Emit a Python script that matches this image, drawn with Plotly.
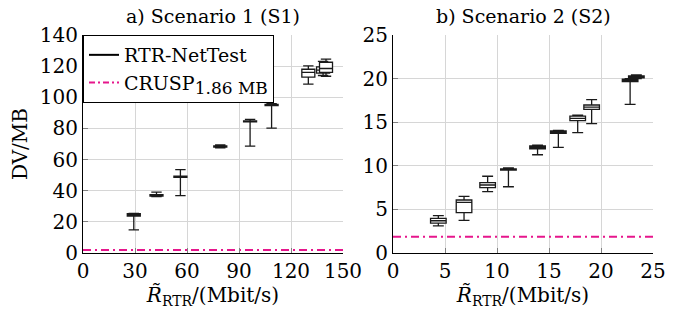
import plotly.graph_objects as go
from plotly.subplots import make_subplots

# ---- Data: Scenario 1 (S1) ----
s1_rate = [29.3, 42.4, 56.2, 79.2, 96.4, 108.8, 130.0, 138.5, 140.2]
s1_min = [14.8, 36.2, 36.8, 67.6, 68.6, 80.2, 108.4, 114.0, 113.5]
s1_q1 = [23.7, 36.6, 48.6, 68.0, 84.2, 94.6, 113.0, 115.5, 116.0]
s1_med = [24.5, 37.0, 49.0, 68.4, 84.5, 95.0, 116.0, 117.5, 118.5]
s1_q3 = [25.3, 37.4, 49.4, 68.8, 84.9, 95.5, 118.0, 119.5, 122.5]
s1_max = [25.5, 39.1, 53.5, 69.4, 85.8, 95.9, 120.2, 123.0, 124.5]

# ---- Data: Scenario 2 (S2) ----
s2_rate = [4.36, 6.83, 9.1, 11.1, 13.9, 15.9, 17.76, 19.1, 22.8, 23.4]
s2_min = [3.1, 3.75, 7.03, 7.6, 11.27, 12.12, 13.8, 14.83, 17.05, 20.0]
s2_q1 = [3.42, 4.62, 7.49, 9.5, 11.93, 13.72, 15.17, 16.48, 19.65, 20.1]
s2_med = [3.7, 5.8, 7.8, 9.6, 12.1, 13.85, 15.45, 16.74, 19.8, 20.2]
s2_q3 = [3.98, 6.08, 8.07, 9.65, 12.27, 14.0, 15.7, 16.97, 19.95, 20.3]
s2_max = [4.28, 6.5, 8.8, 9.75, 12.38, 14.05, 15.8, 17.6, 20.0, 20.42]

crusp_dv = 1.86  # MB

s1_xrange = [0, 150]
s1_yrange = [0, 140]
s2_xrange = [0, 25]
s2_yrange = [0, 25]
s1_xticks = [0, 30, 60, 90, 120, 150]
s1_yticks = [0, 20, 40, 60, 80, 100, 120, 140]
s2_xticks = [0, 5, 10, 15, 20, 25]
s2_yticks = [0, 5, 10, 15, 20, 25]

FONT = "DejaVu Serif"
FS = 20
BOXC = "#1a1a1a"
PINK = "#e6168c"
GRID = "#d6d6d6"

fig = make_subplots(rows=1, cols=2, horizontal_spacing=0.0)

fig.add_trace(go.Box(x=s1_rate, q1=s1_q1, median=s1_med, q3=s1_q3,
                     lowerfence=s1_min, upperfence=s1_max, width=7.5,
                     whiskerwidth=0.8, fillcolor="white",
                     line=dict(color=BOXC, width=1.3), boxpoints=False,
                     showlegend=False, hoverinfo="skip"), row=1, col=1)
fig.add_trace(go.Box(x=s2_rate, q1=s2_q1, median=s2_med, q3=s2_q3,
                     lowerfence=s2_min, upperfence=s2_max, width=1.5,
                     whiskerwidth=0.7, fillcolor="white",
                     line=dict(color=BOXC, width=1.3), boxpoints=False,
                     showlegend=False, hoverinfo="skip"), row=1, col=2)

# CRUSP reference lines
fig.add_trace(go.Scatter(x=s1_xrange, y=[crusp_dv, crusp_dv], mode="lines",
                         line=dict(color=PINK, width=2, dash="8px,4px,2px,4px"),
                         showlegend=False, hoverinfo="skip"), row=1, col=1)
fig.add_trace(go.Scatter(x=s2_xrange, y=[crusp_dv, crusp_dv], mode="lines",
                         line=dict(color=PINK, width=2, dash="8px,4px,2px,4px"),
                         showlegend=False, hoverinfo="skip"), row=1, col=2)

# legend entries
fig.add_trace(go.Scatter(x=[None], y=[None], mode="lines", name="RTR-NetTest",
                         line=dict(color="black", width=2)), row=1, col=1)
fig.add_trace(go.Scatter(x=[None], y=[None], mode="lines",
                         name="CRUSP<sub><span style='font-size:17px'>1.86 MB</span></sub>",
                         line=dict(color=PINK, width=2, dash="6px,3px,2px,3px")), row=1, col=1)

W, H = 678, 320
L, R, T, B = 83, 25, 35, 67
pw = W - L - R
d1 = [0, (343 - L) / pw]
d2 = [(393 - L) / pw, 1]

axcommon = dict(showgrid=True, gridcolor=GRID, gridwidth=1, showline=True,
                linecolor="black", linewidth=1.2, ticks="inside", ticklen=5,
                tickcolor="#808080", tickfont=dict(family=FONT, size=FS, color="black"),
                zeroline=False, mirror=False, automargin=False)

fig.update_xaxes(**axcommon)
fig.update_yaxes(**axcommon)
fig.update_xaxes(range=s1_xrange, tickvals=s1_xticks, domain=d1, row=1, col=1,
                 title=dict(text="<i>R\u0303</i><sub>RTR</sub>/(Mbit/s)",
                            font=dict(family=FONT, size=FS), standoff=2))
fig.update_yaxes(range=s1_yrange, tickvals=s1_yticks, row=1, col=1,
                 title=dict(text="DV/MB", font=dict(family=FONT, size=FS), standoff=6))
fig.update_xaxes(range=s2_xrange, tickvals=s2_xticks, domain=d2, row=1, col=2,
                 title=dict(text="<i>R\u0303</i><sub>RTR</sub>/(Mbit/s)",
                            font=dict(family=FONT, size=FS), standoff=2))
fig.update_yaxes(range=s2_yrange, tickvals=s2_yticks, row=1, col=2)

fig.add_annotation(text="a) Scenario 1 (S1)", xref="paper", yref="paper",
                   x=(d1[0] + d1[1]) / 2, xanchor="center", y=1, yanchor="bottom",
                   yshift=6, showarrow=False,
                   font=dict(family=FONT, size=19, color="black"))
fig.add_annotation(text="b) Scenario 2 (S2)", xref="paper", yref="paper",
                   x=(d2[0] + d2[1]) / 2, xanchor="center", y=1, yanchor="bottom",
                   yshift=6, showarrow=False,
                   font=dict(family=FONT, size=19, color="black"))

fig.update_layout(
    width=W, height=H, margin=dict(l=L, r=R, t=T, b=B),
    plot_bgcolor="white", paper_bgcolor="white",
    font=dict(family=FONT, size=FS, color="black"),
    legend=dict(x=0, y=1, xanchor="left", yanchor="top", xref="paper", yref="paper",
                bgcolor="white", bordercolor="black", borderwidth=1,
                font=dict(family=FONT, size=19), itemwidth=30,
                tracegroupgap=0),
)

fig.write_html("out.html", post_script="document.body.style.margin='0px';",
               config={"displayModeBar": False})
